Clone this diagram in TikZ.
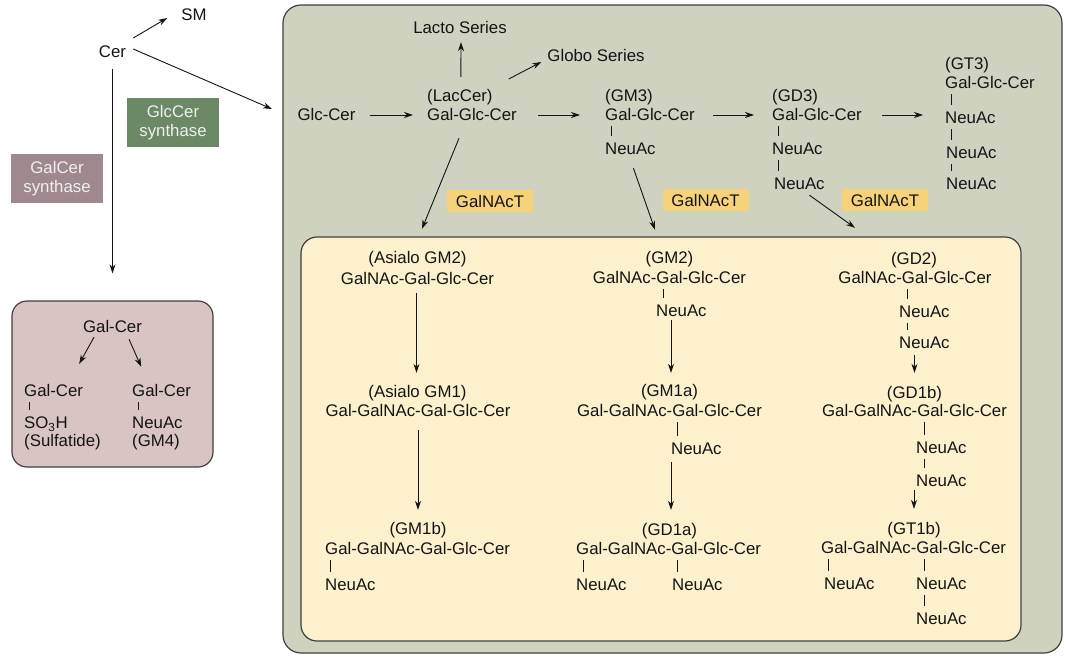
\documentclass[tikz,border=0pt]{standalone}
\usepackage{fontspec}
\setmainfont{Liberation Sans}
\usetikzlibrary{arrows.meta,calc}
\definecolor{grayfill}{RGB}{208,210,192}
\definecolor{yelfill}{RGB}{253,240,205}
\definecolor{galfill}{RGB}{216,197,195}
\definecolor{mauve}{RGB}{160,136,143}
\definecolor{synGreen}{RGB}{106,137,100}
\definecolor{galnact}{RGB}{246,211,122}
\definecolor{ink}{RGB}{20,20,20}
\newcommand\fs{\fontsize{16.8}{20}\selectfont}
\newcommand\tickln[3]{\draw[tickst] ($(#2.north west |- #1.south)+(#3,0)$) -- ($(#2.north west)+(#3,0)$);}
\begin{document}
\begin{tikzpicture}[x=1pt,y=-1pt,
  t/.style={inner sep=0pt,text height=12pt,text depth=0pt,font=\fs,text=ink},
  tl/.style={t,anchor=west},
  arr/.style={draw=ink,line width=0.9pt,-{Stealth[length=9pt,width=6pt]}},
  tickst/.style={draw=ink,line width=1pt,shorten <=6pt,shorten >=6pt},
  enz/.style={inner sep=0pt,minimum width=86pt,minimum height=22pt,fill=galnact,font=\fs,text height=12pt,text depth=0pt,text=ink},
  syn/.style={inner sep=0pt,minimum width=92pt,minimum height=49pt,align=center,font=\fontsize{16.8}{19}\selectfont,text=white!94!black},
  boxst/.style={draw=black!75,line width=1.2pt}]
\useasboundingbox (0,0) rectangle (1067,664);

% containers
\node[boxst,fill=grayfill,rounded corners=18pt,minimum width=779pt,minimum height=648pt] (main) at (672.5,329) {};
\node[boxst,fill=yelfill,rounded corners=16pt,minimum width=720pt,minimum height=404pt] (inner) at (661,439) {};
\node[boxst,fill=galfill,rounded corners=15pt,minimum width=201pt,minimum height=166pt] (galbox) at (112.5,384) {};

% left part
\node[t] (cer) at (112.5,51) {Cer};
\node[t] (sm) at (194,14) {SM};
\node[syn,fill=synGreen] (glcsyn) at (173,122.5) {\raisebox{-2pt}{GlcCer}\\\raisebox{-2pt}{synthase}};
\node[syn,fill=mauve] (galsyn) at (57,178.5) {\raisebox{-2pt}{GalCer}\\\raisebox{-2pt}{synthase}};
\coordinate (mainin) at (272,109);
\draw[arr] ($(cer.east)+(7,-13)$) -- ($(sm.west)+(-14,4)$);
\draw[arr] ($(cer.east)+(7,-2)$) -- (mainin);
\draw[arr] ($(cer.south)+(0,12)$) -- ($(galbox.north)+(0,-27)$);

% Gal-Cer box
\node[t] (gc0) at (112.5,326) {Gal-Cer};
\node[tl] (gcl) at (24,390) {Gal-Cer};
\node[tl] (so3h) at (24,422.5) {SO\textsubscript{3}H};
\node[tl] (sulf) at (24,440) {(Sulfatide)};
\node[tl] (gcr) at (132,390) {Gal-Cer};
\node[tl] (gcrn) at (132,422.5) {NeuAc};
\node[tl] (gm4) at (132,440) {(GM4)};
\draw[arr] ($(gc0.south)+(-18.5,5)$) -- ($(gcl.north)+(25.6,-20)$);
\draw[arr] ($(gc0.south)+(16.5,7)$) -- ($(gcr.north)+(-20.4,-17)$);
\tickln{gcl}{so3h}{5}
\tickln{gcr}{gcrn}{6.5}

% top row
\node[t] (glccer) at (326.5,114) {Glc-Cer};
\node[tl] (lacl) at (427,95) {(LacCer)};
\node[tl] (lac) at (427,114) {Gal-Glc-Cer};
\node[t] (lacto) at (460,27) {Lacto Series};
\node[t] (globo) at (596,55) {Globo Series};
\node[tl] (gm3l) at (605,95) {(GM3)};
\node[tl] (gm3) at (605,114) {Gal-Glc-Cer};
\node[tl] (gm3n) at (605,148) {NeuAc};
\node[tl] (gd3l) at (772,95) {(GD3)};
\node[tl] (gd3) at (772,114) {Gal-Glc-Cer};
\node[tl] (gd3n1) at (772,148) {NeuAc};
\node[tl] (gd3n2) at (774,183) {NeuAc};
\node[tl] (gt3l) at (945,63) {(GT3)};
\node[tl] (gt3) at (945,82) {Gal-Glc-Cer};
\node[tl] (gt3n1) at (945,117) {NeuAc};
\node[tl] (gt3n2) at (946,152) {NeuAc};
\node[tl] (gt3n3) at (946,183) {NeuAc};

\draw[arr] ($(glccer.east)+(14,1)$) -- ($(lac.west)+(-14,1)$);
\draw[arr] ($(lac.east)+(21,1)$) -- ($(gm3.west)+(-25,1)$);
\draw[arr] ($(gm3.east)+(18,1)$) -- ($(gd3.west)+(-18,1)$);
\draw[arr] ($(gd3.east)+(20,1)$) -- ($(gd3.east -| gt3.west)+(-22,1)$);
\draw[arr] ($(lacl.north)+(1,-12)$) -- ($(lacto.south)+(1,9)$);
\draw[arr] ($(lacl.east)+(16,-16)$) -- ($(globo.west)+(-6,7)$);
\tickln{gm3}{gm3n}{6}
\tickln{gd3}{gd3n1}{6}
\tickln{gd3n1}{gd3n2}{4}
\tickln{gt3}{gt3n1}{6}
\tickln{gt3n1}{gt3n2}{5}
\tickln{gt3n2}{gt3n3}{5}

% enzyme labels
\node[enz] (e1) at (490,201) {GalNAcT};
\node[enz] (e2) at (705.5,200) {GalNAcT};
\node[enz] (e3) at (885,200) {GalNAcT};

% column 1
\node[t] (agm2l) at (417.5,257) {(Asialo GM2)};
\node[t] (agm2) at (417.5,278) {GalNAc-Gal-Glc-Cer};
\node[t] (agm1l) at (417.5,391) {(Asialo GM1)};
\node[t] (agm1) at (418,410) {Gal-GalNAc-Gal-Glc-Cer};
\node[t] (gm1bl) at (418,528) {(GM1b)};
\node[tl] (gm1b) at (325,548) {Gal-GalNAc-Gal-Glc-Cer};
\node[tl] (gm1bn) at (325,584) {NeuAc};
\draw[arr] ($(lac.south)+(-13,18)$) -- ($(agm2l.north)+(4.5,-22)$);
\draw[arr] ($(agm2.south)+(-1,9)$) -- ($(agm1l.north)+(-1,-12)$);
\draw[arr] ($(agm1.south)+(0,14)$) -- ($(gm1bl.north)+(0,-12)$);
\tickln{gm1b}{gm1bn}{5}

% column 2
\node[t] (gm2l) at (669.5,257) {(GM2)};
\node[t] (gm2) at (669.5,277) {GalNAc-Gal-Glc-Cer};
\node[tl] (gm2n) at (656,310) {NeuAc};
\node[t] (gm1al) at (669.5,390) {(GM1a)};
\node[t] (gm1a) at (669.5,410) {Gal-GalNAc-Gal-Glc-Cer};
\node[tl] (gm1an) at (671,448) {NeuAc};
\node[t] (gd1al) at (669.5,529) {(GD1a)};
\node[tl] (gd1a) at (576,548) {Gal-GalNAc-Gal-Glc-Cer};
\node[tl] (gd1an1) at (576,584) {NeuAc};
\node[tl] (gd1an2) at (672,584) {NeuAc};
\draw[arr] ($(gm3n.south)+(3,14)$) -- ($(gm2l.north)+(-14.5,-21)$);
\draw[arr] ($(gm1al.north |- gm2n.south)+(1.5,4)$) -- ($(gm1al.north)+(1.5,-11)$);
\draw[arr] ($(gd1al.north |- gm1an.south)+(1.5,8)$) -- ($(gd1al.north)+(1.5,-13)$);
\tickln{gm2}{gm2n}{7}
\tickln{gm1a}{gm1an}{6}
\tickln{gd1a}{gd1an1}{7}
\tickln{gd1a}{gd1an2}{5}

% column 3
\node[t] (gd2l) at (914,258) {(GD2)};
\node[t] (gd2) at (915,277) {GalNAc-Gal-Glc-Cer};
\node[tl] (gd2n1) at (899,311) {NeuAc};
\node[tl] (gd2n2) at (899,342) {NeuAc};
\node[t] (gd1bl) at (914.5,392) {(GD1b)};
\node[t] (gd1b) at (914.5,410) {Gal-GalNAc-Gal-Glc-Cer};
\node[tl] (gd1bn1) at (916,447) {NeuAc};
\node[tl] (gd1bn2) at (916,480) {NeuAc};
\node[t] (gt1bl) at (914,528) {(GT1b)};
\node[tl] (gt1b) at (821,547) {Gal-GalNAc-Gal-Glc-Cer};
\node[tl] (gt1bn1) at (824,583) {NeuAc};
\node[tl] (gt1bn2) at (916,583) {NeuAc};
\node[tl] (gt1bn3) at (916,618) {NeuAc};
\draw[arr] ($(gd3n2.south)+(10,6)$) -- ($(gd2l.north)+(-59,-24)$);
\draw[arr] ($(gd1bl.north |- gd2n2.south)+(0,7)$) -- ($(gd1bl.north)+(0,-13)$);
\draw[arr] ($(gt1bl.north |- gd1bn2.south)+(0,4)$) -- ($(gt1bl.north)+(0,-13)$);
\tickln{gd2}{gd2n1}{8}
\tickln{gd2n1}{gd2n2}{8}
\tickln{gd1b}{gd1bn1}{8}
\tickln{gd1bn1}{gd1bn2}{8}
\tickln{gt1b}{gt1bn1}{4}
\tickln{gt1b}{gt1bn2}{8}
\tickln{gt1bn2}{gt1bn3}{8}
\end{tikzpicture}
\end{document}
